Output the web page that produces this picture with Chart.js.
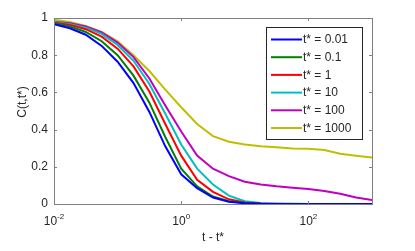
<!DOCTYPE html>
<html>
<head>
<meta charset="utf-8">
<script src="https://cdn.jsdelivr.net/npm/chart.js@4.4.1/dist/chart.umd.min.js"></script>
<style>
  html, body { margin: 0; padding: 0; background: #fff; }
  #wrap { width: 415px; height: 251px; }
</style>
</head>
<body>
<div id="wrap"><canvas id="grafico" width="415" height="251"></canvas></div>
<script>
// t - t* (amostras em escala log)
const tValues = [0.01, 0.0178, 0.0316, 0.0562, 0.1, 0.178, 0.316, 0.562, 1, 1.78, 3.16, 5.62,
  10, 17.8, 31.6, 56.2, 100, 178, 316, 562, 1000];

const serieLabels = ['t* = 0.01', 't* = 0.1', 't* = 1', 't* = 10', 't* = 100', 't* = 1000'];
const serieCores = ['#0000ff', '#008000', '#ff0000', '#00bfbf', '#bf00bf', '#bfbf00'];

const c001 = [0.966, 0.945, 0.91, 0.85, 0.765, 0.65, 0.495, 0.31, 0.16, 0.085, 0.035, 0.012,
  0.004, 0.001, 0, 0, 0, 0, 0, 0, 0];
const c01 = [0.972, 0.955, 0.925, 0.875, 0.80, 0.69, 0.545, 0.36, 0.19, 0.095, 0.04, 0.015,
  0.005, 0.001, 0, 0, 0, 0, 0, 0, 0];
const c1 = [0.975, 0.963, 0.94, 0.9, 0.835, 0.74, 0.605, 0.43, 0.26, 0.13, 0.065, 0.025,
  0.008, 0.003, 0.001, 0, 0, 0, 0, 0, 0];
const c10 = [0.978, 0.967, 0.948, 0.915, 0.855, 0.77, 0.645, 0.485, 0.32, 0.19, 0.105, 0.045,
  0.015, 0.006, 0.002, 0.001, 0, 0, 0, 0, 0];
const c100 = [0.98, 0.972, 0.955, 0.922, 0.868, 0.79, 0.675, 0.53, 0.39, 0.26, 0.19, 0.15,
  0.12, 0.105, 0.095, 0.087, 0.08, 0.07, 0.055, 0.035, 0.022];
const c1000 = [0.99, 0.978, 0.957, 0.925, 0.875, 0.80, 0.715, 0.615, 0.52, 0.43, 0.365, 0.335,
  0.32, 0.31, 0.305, 0.298, 0.297, 0.29, 0.27, 0.26, 0.25];

const xTicks = [0.01, 1, 100];
const xTickExp = ['-2', '0', '2'];
const yTicks = [0, 0.2, 0.4, 0.6, 0.8, 1];
const yTickLabels = ['0', '0.2', '0.4', '0.6', '0.8', '1'];

const series = [c001, c01, c1, c10, c100, c1000];
const FONTE = '"Liberation Sans", Arial, Helvetica, sans-serif';
const COR_TEXTO = '#262626';
const COR_EIXO = '#808080';

// eixos estilo MATLAB: caixa, ticks para dentro, rótulos
const eixosPlugin = {
  id: 'eixos',
  afterDatasetsDraw(chart) {
    const { ctx, chartArea: a, scales: { x, y } } = chart;
    ctx.save();
    ctx.strokeStyle = COR_EIXO;
    ctx.lineWidth = 1;
    ctx.strokeRect(Math.round(a.left) + 0.5, Math.round(a.top) + 0.5,
      Math.round(a.right - a.left), Math.round(a.bottom - a.top));
    ctx.beginPath();
    yTicks.forEach(v => {
      const py = Math.round(y.getPixelForValue(v)) + 0.5;
      ctx.moveTo(a.left, py); ctx.lineTo(a.left + 3, py);
      ctx.moveTo(a.right, py); ctx.lineTo(a.right - 3, py);
    });
    xTicks.forEach(v => {
      const px = Math.round(x.getPixelForValue(v)) + 0.5;
      ctx.moveTo(px, a.bottom); ctx.lineTo(px, a.bottom - 3);
      ctx.moveTo(px, a.top); ctx.lineTo(px, a.top + 3);
    });
    ctx.stroke();

    ctx.fillStyle = COR_TEXTO;
    ctx.font = '12px ' + FONTE;
    ctx.textAlign = 'right';
    ctx.textBaseline = 'middle';
    yTicks.forEach((v, i) => {
      ctx.fillText(yTickLabels[i], a.left - 6, y.getPixelForValue(v));
    });

    // 10^n com expoente menor
    ctx.textBaseline = 'alphabetic';
    ctx.textAlign = 'left';
    xTicks.forEach((v, i) => {
      const px = x.getPixelForValue(v);
      ctx.font = '12px ' + FONTE;
      const wBase = ctx.measureText('10').width;
      ctx.font = '8px ' + FONTE;
      const wExp = ctx.measureText(xTickExp[i]).width;
      const x0 = px - (wBase + wExp) / 2;
      ctx.font = '12px ' + FONTE;
      ctx.fillText('10', x0, a.bottom + 21);
      ctx.font = '8px ' + FONTE;
      ctx.fillText(xTickExp[i], x0 + wBase, a.bottom + 15);
    });

    ctx.font = '12px ' + FONTE;
    ctx.textAlign = 'center';
    ctx.textBaseline = 'middle';
    ctx.fillText('t - t*', (a.left + a.right) / 2, a.bottom + 34);
    ctx.save();
    ctx.translate(23, 102);
    ctx.rotate(-Math.PI / 2);
    ctx.fillText('C(t,t*)', 0, 0);
    ctx.restore();

    // legenda
    const lx = 266, ly = 27, lw = 96, lh = 112, passo = 17.7;
    ctx.fillStyle = '#fff';
    ctx.fillRect(lx, ly, lw, lh);
    ctx.strokeStyle = COR_TEXTO;
    ctx.lineWidth = 1;
    ctx.strokeRect(lx + 0.5, ly + 0.5, lw, lh);
    chart.data.datasets.forEach((ds, i) => {
      const cy = ly + 12.5 + i * passo;
      ctx.strokeStyle = ds.borderColor;
      ctx.lineWidth = 2;
      ctx.beginPath();
      ctx.moveTo(lx + 5, cy); ctx.lineTo(lx + 36, cy);
      ctx.stroke();
      ctx.fillStyle = COR_TEXTO;
      ctx.font = '12px ' + FONTE;
      ctx.textAlign = 'left';
      ctx.textBaseline = 'middle';
      ctx.fillText(ds.label, lx + 37, cy + 0.5);
    });
    ctx.restore();
  }
};

new Chart(document.getElementById('grafico'), {
  type: 'line',
  data: {
    datasets: series.map((s, i) => ({
      label: serieLabels[i],
      data: tValues.map((t, j) => ({ x: t, y: s[j] })),
      borderColor: serieCores[i],
      backgroundColor: serieCores[i],
      borderWidth: 2,
      pointRadius: 0,
      tension: 0,
      fill: false
    }))
  },
  options: {
    responsive: false,
    animation: false,
    devicePixelRatio: 1,
    layout: { padding: { left: 54, right: 43, top: 18, bottom: 47 } },
    plugins: { legend: { display: false }, tooltip: { enabled: false } },
    scales: {
      x: { type: 'logarithmic', min: 0.01, max: 1000, display: false },
      y: { type: 'linear', min: 0, max: 1, display: false }
    }
  },
  plugins: [eixosPlugin]
});
</script>
</body>
</html>
